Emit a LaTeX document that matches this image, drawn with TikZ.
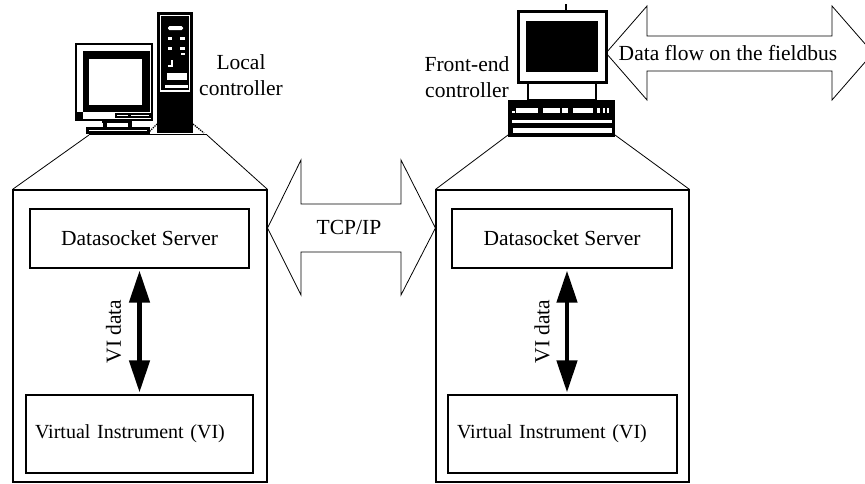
\documentclass[tikz,border=0pt]{standalone}
\usepackage{fontspec}
\setmainfont{Liberation Serif}
\usetikzlibrary{arrows.meta}
\begin{document}
\begin{tikzpicture}[x=1pt,y=-1pt,
  lbl/.style={font=\fontsize{21.5}{26}\selectfont, inner sep=0pt},
  vilbl/.style={font=\fontsize{20}{26}\selectfont, inner sep=0pt},
  frame/.style={draw, line width=1.1pt, inner sep=0pt},
  thinline/.style={line width=0.8pt, line join=miter},
  viarrow/.style={line width=4.5pt,
    {Triangle[width=20pt,length=32pt]}-{Triangle[width=20pt,length=32pt]},
    shorten <=2pt, shorten >=2pt},
  vitext/.style={lbl, rotate=90},
]
\useasboundingbox (0,0) rectangle (865,483);

% ---------------- left station ----------------
\node[frame, minimum width=254pt, minimum height=292pt] (lbox) at (140,336) {};
\node[frame, lbl, minimum width=219pt, minimum height=59pt] (lds) at (139.5,238.5) {Datasocket Server};
\node[frame, vilbl, text width=209pt, inner xsep=9pt, minimum height=78pt, align=left] (lvi) at (139.5,434) {Virtual Instrument (VI)};
\draw[viarrow] (lds.south) -- (lvi.north) coordinate[midway] (lmid);
\node[vitext] (lvidata) at ([xshift=-26pt]lmid) {VI data};

% ---------------- right station ----------------
\node[frame, minimum width=253pt, minimum height=292pt] (rbox) at (562.5,336) {};
\node[frame, lbl, minimum width=220pt, minimum height=59pt] (rds) at (562,238.5) {Datasocket Server};
\node[frame, vilbl, text width=211pt, inner xsep=9pt, minimum height=78pt, align=left] (rvi) at (562.5,434) {Virtual Instrument (VI)};
\draw[viarrow] ([xshift=5pt]rds.south) -- ([xshift=4.5pt]rvi.north) coordinate[midway] (rmid);
\node[vitext] (rvidata) at ([xshift=-25pt]rmid) {VI data};

% ---------------- TCP/IP double arrow ----------------
\draw[thinline] (lbox.east |- 0,228) -- (301,160) -- (301,204) -- (401,204) -- (401,160)
  -- (rbox.west |- 0,228) -- (401,295) -- (401,252) -- (301,252) -- (301,295) -- cycle;
\node[lbl] (tcp) at (349,227) {TCP/IP};

% ---------------- fieldbus double arrow ----------------
\draw[thinline] (606,53) -- (647,6) -- (647,36) -- (832,36) -- (832,6) -- (873,53)
  -- (832,100) -- (832,71) -- (647,71) -- (647,100) -- cycle;
\node[lbl] (bus) at (728,53) {Data flow on the fieldbus};

% ---------------- local controller (monitor + tower) ----------------
% monitor
\draw[line width=2.5pt, fill=white] (76,44) rectangle (152,120);
\fill (83,51) rectangle (150,112);
\fill[white] (89,59) rectangle (142,105);
\fill (75,112) rectangle (83,120);
\fill (115,113) rectangle (152,118);
\fill[white] (117,115) rectangle (128,116.4);
\fill[white] (131,115) rectangle (149,116.4);
% stand and base
\fill (102,120) rectangle (132,123);
\fill (103,120) rectangle (107,127);
\fill (128,120) rectangle (132,127);
\fill (86,127) rectangle (150,134);
\fill[white] (89,129.6) rectangle (147,131.2);
% tower
\fill (157,12) rectangle (193,133);
\draw[white, line width=1.2pt] (160.5,15.5) rectangle (189.5,91);
\fill[white, rounded corners=1.5pt] (168,26) rectangle (183,30);
\fill[white] (168,37) rectangle (172,40);
\fill[white] (180,37) rectangle (185,40);
\fill[white] (168,47) rectangle (172,50);
\fill[white] (180,47) rectangle (185,50);
\fill[white] (181,53) rectangle (185,55);
\fill[white] (171,60) rectangle (173,67);
\fill[white] (168,65) rectangle (173,67);
\fill[white] (167,73) rectangle (187,80);
\fill[white] (165,85) rectangle (188,88);
% feet
\draw[densely dotted, line width=1.3pt] (148,133) -- (157,124);
\draw[densely dotted, line width=1.3pt] (193,124) -- (204,133);
\draw[thinline] (89,134.5) -- (207,134.5);
\coordinate (lbaseL) at (89,135);
\coordinate (lbaseR) at (207,135);
\draw[thinline] (lbox.north west) -- (lbaseL);
\draw[thinline] (lbox.north east) -- (lbaseR);
\node[lbl, align=center] (ltext) at (241,75) {Local\\controller};

% ---------------- front-end controller ----------------
\draw[line width=1.5pt] (566,4) -- (566,10);
\draw[line width=3pt, fill=white] (518,11) rectangle (606,82);
\fill (526,21) rectangle (598,72);
\draw[line width=2.5pt] (528,82) rectangle (596,100);
\fill (508,100) rectangle (615,137);
\fill[white] (516,108) rectangle (538,113);
\fill[white] (512,111) rectangle (514.5,113);
\fill[white] (543,108) rectangle (560,113);
\fill[white] (562,108) rectangle (568,113);
\fill[white] (573,108) rectangle (593,113);
\fill[white] (597,108) rectangle (600,113);
\fill[white] (603,108) rectangle (605,113);
\fill[white] (607,108) rectangle (609,113);
\fill[white] (512,120) rectangle (612,123);
\fill[white] (513,128) rectangle (612,133);
\coordinate (rbaseL) at (508,135);
\coordinate (rbaseR) at (615,135);
\draw[thinline] (rbox.north west) -- (rbaseL);
\draw[thinline] (rbox.north east) -- (rbaseR);
\node[lbl, align=center] (rtext) at (467,77) {Front-end\\controller};
\end{tikzpicture}
\end{document}
